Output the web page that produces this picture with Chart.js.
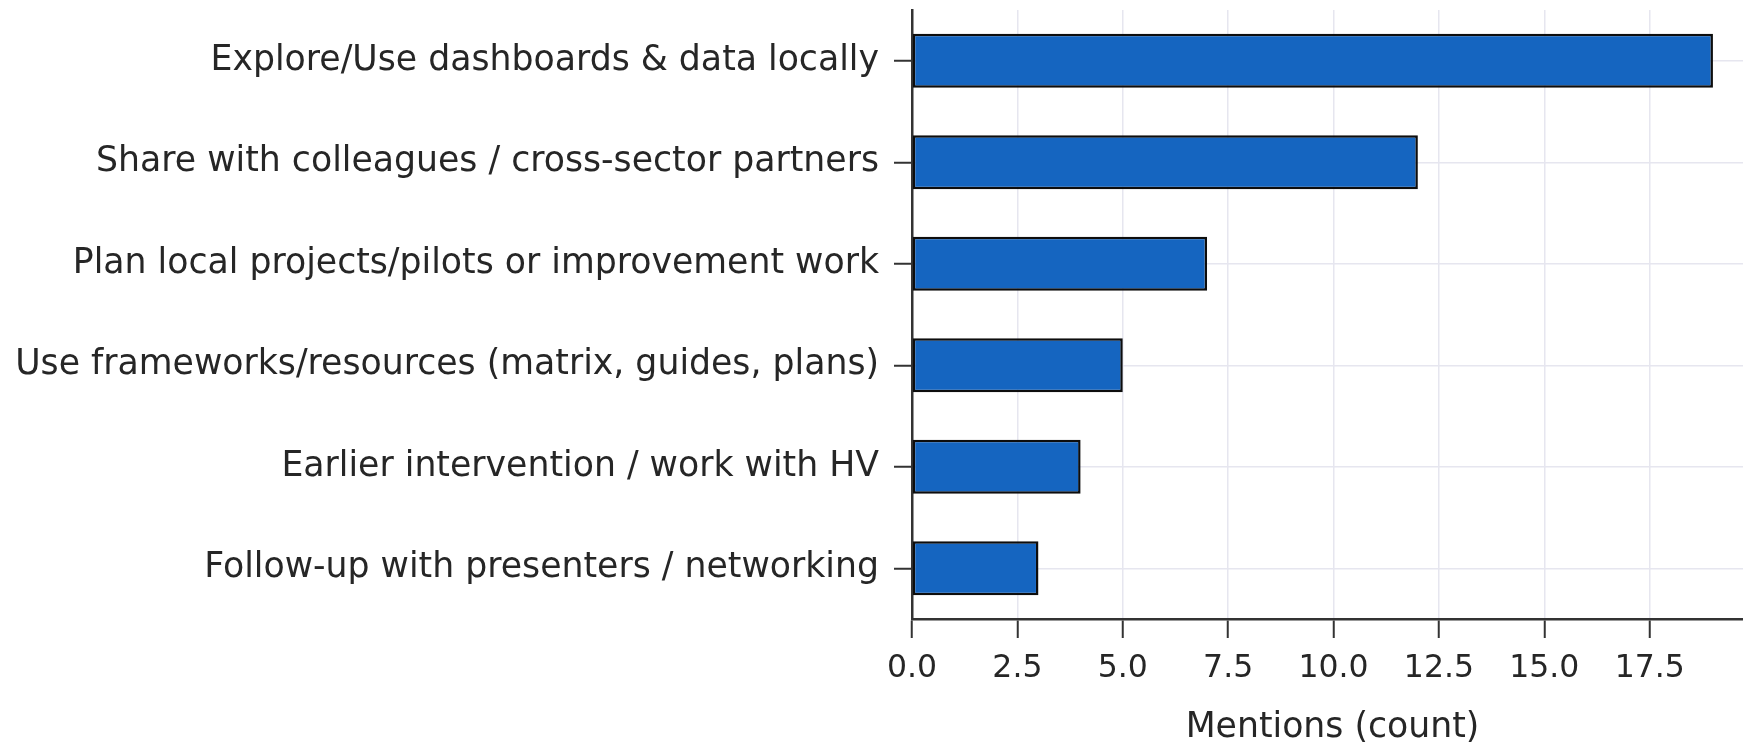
<!DOCTYPE html>
<html>
<head>
<meta charset="utf-8">
<script src="https://cdn.jsdelivr.net/npm/chart.js@4/dist/chart.umd.min.js"></script>
<style>
  html, body { margin: 0; padding: 0; background: #fff; overflow: hidden; }
  #wrap { position: absolute; left: 0; top: 0; width: 1760px; height: 744px; }
</style>
</head>
<body>
<div id="wrap"><canvas id="chart" width="1760" height="744"></canvas></div>
<script>
const kategorien = [
  'Explore/Use dashboards & data locally',
  'Share with colleagues / cross-sector partners',
  'Plan local projects/pilots or improvement work',
  'Use frameworks/resources (matrix, guides, plans)',
  'Earlier intervention / work with HV',
  'Follow-up with presenters / networking'
];
const nennungen = [19, 12, 7, 5, 4, 3];
const xTicks = [0, 2.5, 5, 7.5, 10, 12.5, 15, 17.5];
const xTitel = 'Mentions (count)';

const familie = "'DejaVu Sans', sans-serif";
const textFarbe = '#262626';
const gitter = '#e6e6ef';

const ctx = document.getElementById('chart').getContext('2d');
new Chart(ctx, {
  type: 'bar',
  data: {
    labels: kategorien,
    datasets: [{
      data: nennungen,
      backgroundColor: '#1565c0',
      borderColor: '#0d0d0d',
      borderWidth: 2.5,
      borderSkipped: false,
      barPercentage: 0.53,
      categoryPercentage: 1
    }]
  },
  options: {
    indexAxis: 'y',
    responsive: false,
    animation: false,
    layout: { padding: { top: 10, right: 7, left: 0, bottom: 0 } },
    plugins: { legend: { display: false }, tooltip: { enabled: false } },
    scales: {
      x: {
        type: 'linear',
        min: 0,
        max: 19.95,
        afterBuildTicks: s => { s.ticks = xTicks.map(v => ({ value: v })); },
        afterFit: s => { s.height = 125; },
        ticks: {
          color: textFarbe,
          font: { family: familie, size: 31.5 },
          padding: 12,
          callback: v => Number(v).toFixed(1)
        },
        grid: { color: gitter, lineWidth: 1.5, tickColor: '#333', tickLength: 19, tickWidth: 2 },
        border: { color: '#333', width: 2.5 },
        title: { display: true, text: xTitel, color: textFarbe, font: { family: familie, size: 34.7 }, padding: { top: 0, bottom: -5 } }
      },
      y: {
        afterFit: s => { s.width = 912; s.paddingTop = 0; s.paddingBottom = 0; },
        ticks: { color: textFarbe, font: { family: familie, size: 34.7 }, padding: 15 },
        grid: { offset: false, color: gitter, lineWidth: 1.5, tickColor: '#333', tickLength: 18, tickWidth: 2 },
        border: { color: '#333', width: 2.5 }
      }
    }
  }
});
</script>
</body>
</html>
